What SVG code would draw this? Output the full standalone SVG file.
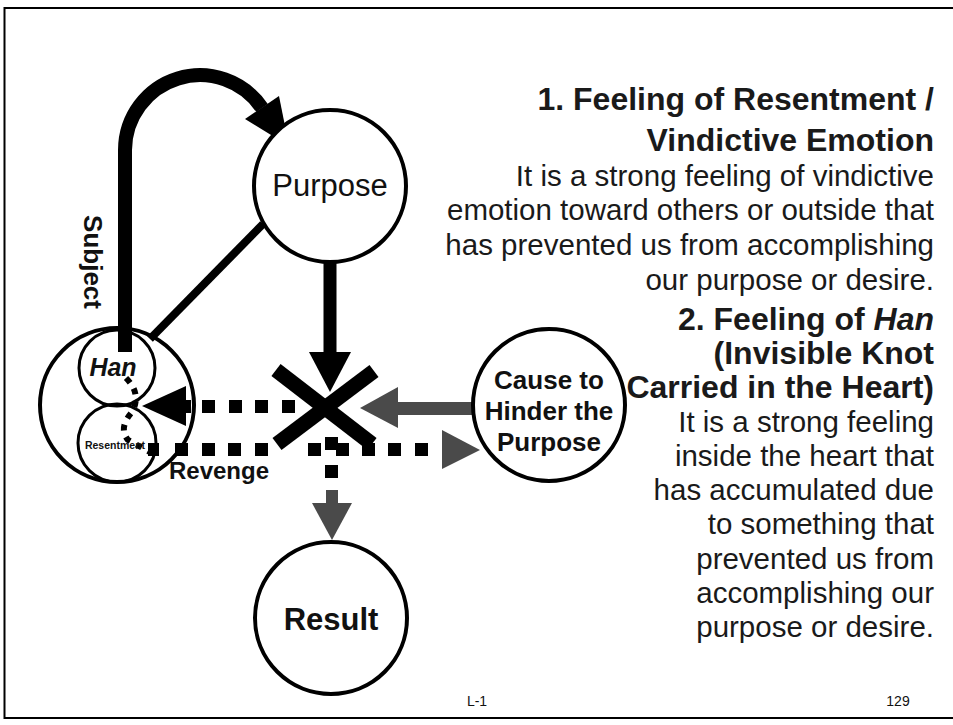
<svg xmlns="http://www.w3.org/2000/svg" width="953" height="725" viewBox="0 0 953 725">
<style>
.ring{fill:#fff;stroke:#000;stroke-width:4}
.ring2{fill:none;stroke:#000;stroke-width:3}
.lbl{font-family:"Liberation Sans",Arial,sans-serif;fill:#111;text-anchor:middle}
.b{font-weight:bold}
.h{font-family:"Liberation Sans",Arial,sans-serif;font-weight:bold;font-size:32px;fill:#1a1a1a;text-anchor:end}
.t{font-family:"Liberation Sans",Arial,sans-serif;font-size:29.5px;fill:#1a1a1a;text-anchor:end}
.sq{fill:#000}
.gr{fill:#4a4a4a}
</style>
<rect x="4.5" y="8" width="960" height="710" fill="#fff" stroke="#000" stroke-width="2"/>

<g id="connectors">
  <!-- Subject arc -->
  <path d="M125,352 V150 A75,75 0 0 1 262,108" fill="none" stroke="#000" stroke-width="14"/>
  <polygon points="279,96 245,119 289,146" fill="#000"/>
  <!-- Han to Purpose -->
  <line x1="150" y1="339" x2="263" y2="224" stroke="#000" stroke-width="8"/>
  <!-- Purpose to X -->
  <line x1="330" y1="262" x2="330" y2="356" stroke="#000" stroke-width="13"/>
  <polygon points="309,352 351,352 330,392" fill="#000"/>
  <!-- Cause to X -->
  <rect class="gr" x="396" y="402" width="78" height="13"/>
  <polygon class="gr" points="398,387 398,428 360,408"/>
  <!-- upper dotted to heart -->
  <rect class="sq" x="282" y="400" width="13" height="13"/>
  <rect class="sq" x="255" y="400" width="13" height="13"/>
  <rect class="sq" x="229" y="400" width="13" height="13"/>
  <rect class="sq" x="202" y="400" width="13" height="13"/>
  <rect class="sq" x="183" y="400" width="8" height="13"/>
  <polygon class="sq" points="186,386 186,426 142,406"/>
  <!-- lower dotted: revenge -->
  <rect class="sq" x="148" y="443" width="11" height="13"/>
  <rect class="sq" x="175" y="443" width="13" height="13"/>
  <rect class="sq" x="202" y="443" width="13" height="13"/>
  <rect class="sq" x="228" y="443" width="13" height="13"/>
  <rect class="sq" x="255" y="443" width="13" height="13"/>
  <rect class="sq" x="308" y="443" width="13" height="13"/>
  <rect class="sq" x="336" y="443" width="13" height="13"/>
  <rect class="sq" x="362" y="443" width="13" height="13"/>
  <rect class="sq" x="388" y="443" width="13" height="13"/>
  <rect class="sq" x="415" y="443" width="13" height="13"/>
  <polygon class="gr" points="442,430 442,469 480,450"/>
  <!-- down dotted to result -->
  <rect class="sq" x="325" y="437" width="13" height="13"/>
  <rect class="sq" x="325" y="465" width="13" height="13"/>
  <rect class="gr" x="326" y="490" width="12" height="15"/>
  <polygon class="gr" points="312,503 352,503 332,540"/>
  <!-- han to resentment small dotted -->
  <path d="M126,378 Q142,394 132,412 Q118,428 128,440 L150,452" fill="none" stroke="#000" stroke-width="6" stroke-dasharray="6 7"/>
</g>

<g id="x-block">
  <line x1="276" y1="370" x2="372" y2="444" stroke="#000" stroke-width="15"/>
  <line x1="374" y1="371" x2="277" y2="444" stroke="#000" stroke-width="15"/>
</g>

<g id="purpose">
  <circle class="ring" cx="330" cy="186" r="76"/>
  <text class="lbl" x="330" y="196" font-size="31">Purpose</text>
</g>

<g id="heart">
  <circle cx="117" cy="405" r="77" fill="none" stroke="#000" stroke-width="4"/>
  <circle class="ring2" cx="117" cy="368" r="38"/>
  <circle class="ring2" cx="117" cy="443" r="39"/>
  <text class="lbl b" x="113" y="376" font-size="25" font-style="italic">Han</text>
  <text class="lbl b" x="115" y="449" font-size="10.5">Resentment</text>
</g>

<g id="cause">
  <circle class="ring" cx="549" cy="405" r="76"/>
  <text class="lbl b" x="549" y="389" font-size="26">Cause to</text>
  <text class="lbl b" x="549" y="420" font-size="26">Hinder the</text>
  <text class="lbl b" x="549" y="451" font-size="26">Purpose</text>
</g>

<g id="result">
  <circle class="ring" cx="331" cy="618" r="76"/>
  <text class="lbl b" x="331" y="630" font-size="31">Result</text>
</g>

<g id="labels">
  <text class="lbl b" font-size="26" transform="translate(84,262) rotate(90)">Subject</text>
  <text class="lbl b" x="219" y="479" font-size="24">Revenge</text>
</g>

<g id="description">
  <text class="h" x="934" y="110">1. Feeling of Resentment /</text>
  <text class="h" x="934" y="151">Vindictive Emotion</text>
  <text class="t" x="934" y="186">It is a strong feeling of vindictive</text>
  <text class="t" x="934" y="220">emotion toward others or outside that</text>
  <text class="t" x="934" y="255">has prevented us from accomplishing</text>
  <text class="t" x="934" y="290">our purpose or desire.</text>
  <text class="h" x="934" y="330">2. Feeling of <tspan font-style="italic">Han</tspan></text>
  <text class="h" x="934" y="364">(Invisible Knot</text>
  <text class="h" x="934" y="398">Carried in the Heart)</text>
  <text class="t" x="934" y="432">It is a strong feeling</text>
  <text class="t" x="934" y="466">inside the heart that</text>
  <text class="t" x="934" y="500">has accumulated due</text>
  <text class="t" x="934" y="534">to something that</text>
  <text class="t" x="934" y="569">prevented us from</text>
  <text class="t" x="934" y="603">accomplishing our</text>
  <text class="t" x="934" y="637">purpose or desire.</text>
</g>

<g id="footer">
  <text class="lbl" x="477" y="706" font-size="14">L-1</text>
  <text class="lbl" x="898" y="706" font-size="14">129</text>
</g>
</svg>
